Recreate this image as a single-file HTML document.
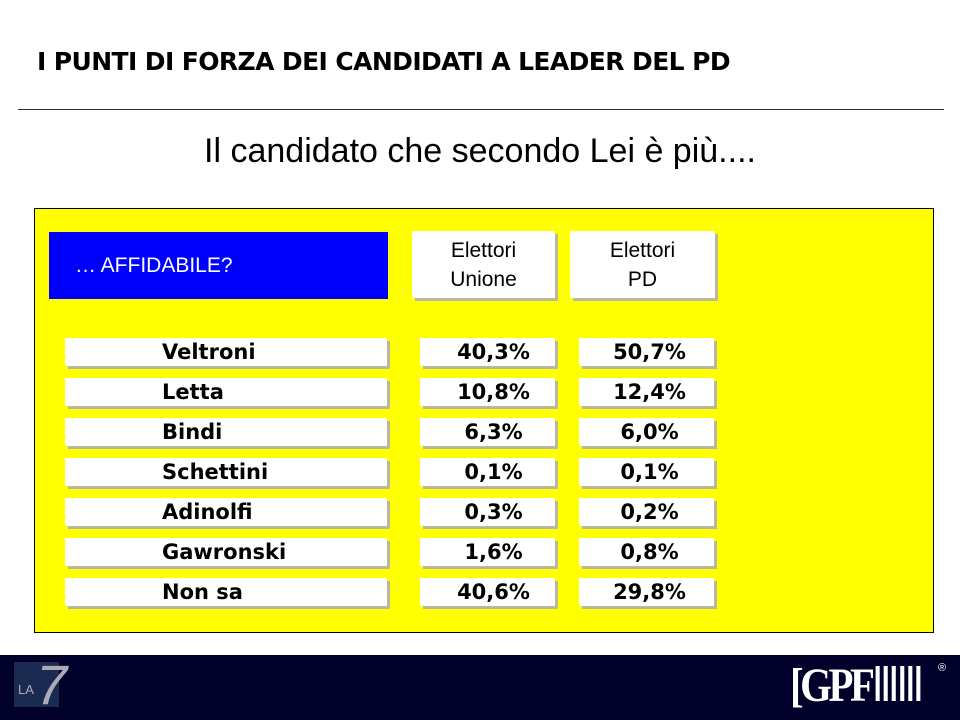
<!DOCTYPE html>
<html><head><meta charset="utf-8"><style>
body{margin:0;width:960px;height:720px;background:#fff;position:relative;overflow:hidden;font-family:"Liberation Sans",sans-serif}
.abs{position:absolute}
.box{position:absolute;background:#fff;box-shadow:3px 3px 0 #b8b8a0;display:flex;align-items:center;justify-content:center;font-weight:bold;font-size:21px;color:#000;font-family:"DejaVu Sans",sans-serif;box-sizing:border-box}
</style></head><body>
<div class="abs" style="left:37px;top:47px;font-size:25px;font-weight:bold;font-family:'DejaVu Sans',sans-serif;letter-spacing:-0.6px">I PUNTI DI FORZA DEI CANDIDATI A LEADER DEL PD</div>
<div class="abs" style="left:18px;top:109px;width:926px;height:1px;background:#333"></div>
<div class="abs" style="left:0;width:960px;top:132px;text-align:center;font-size:34px">Il candidato che secondo Lei è più....</div>
<div class="abs" style="left:34px;top:208px;width:898px;height:423px;background:#ffff00;border:1px solid #000"></div>
<div class="abs" style="left:49px;top:232px;width:339px;height:67px;background:#0000ff;color:#fff;font-size:21px;line-height:67px;padding-left:26px;box-sizing:border-box">… AFFIDABILE?</div>
<div class="box" style="left:412px;top:231px;width:143px;height:67px;font-weight:normal;font-size:21px;text-align:center;line-height:29px;font-family:'Liberation Sans',sans-serif">Elettori<br>Unione</div>
<div class="box" style="left:570px;top:231px;width:145px;height:67px;font-weight:normal;font-size:21px;text-align:center;line-height:29px;font-family:'Liberation Sans',sans-serif">Elettori<br>PD</div>
<div id="rows"></div>
<div class="abs" style="left:0;top:655px;width:960px;height:65px;background:#00002a"></div>
<div class="abs" style="left:14px;top:662px;width:45px;height:45px;background:#1a2a50"></div>
<div class="abs" style="left:18px;top:682px;color:#aab;font-size:13px">LA</div>
<div class="abs" style="left:36px;top:655px;color:#aab;font-size:56px;font-style:italic;line-height:60px">7</div>
<div class="abs" style="left:790px;top:660px;color:#fff;font-family:'Liberation Serif',serif;font-size:48px;font-weight:bold;letter-spacing:-4px;line-height:52px;transform:scaleX(0.85);transform-origin:left">[GPF<span style="font-weight:normal">ⅢⅢ</span></div>
<div class="abs" style="left:938px;top:662px;color:#fff;font-size:11px">®</div>
<script>
const names=["Veltroni","Letta","Bindi","Schettini","Adinolfi","Gawronski","Non sa"];
const unione=[40.3,10.8,6.3,0.1,0.3,1.6,40.6];
const pd=[50.7,12.4,6.0,0.1,0.2,0.8,29.8];
const fmt=v=>v.toFixed(1).replace('.',',')+'%';
const c=document.getElementById('rows');
names.forEach((n,i)=>{
 const y=338+i*40;
 const a=document.createElement('div');a.className='box';
 
 
 a.style.cssText=`left:65px;top:${y}px;width:322px;height:28px;justify-content:flex-start;padding-left:97px`;
 a.textContent=n;c.appendChild(a);
 const b=document.createElement('div');b.className='box';
 
 
 b.style.cssText=`left:420px;top:${y}px;width:135px;height:28px;padding-left:12px`;
 b.textContent=fmt(unione[i]);c.appendChild(b);
 const d=document.createElement('div');d.className='box';
 
 
 d.style.cssText=`left:579px;top:${y}px;width:135px;height:28px;padding-left:6px`;
 d.textContent=fmt(pd[i]);c.appendChild(d);
});
</script>
</body></html>
